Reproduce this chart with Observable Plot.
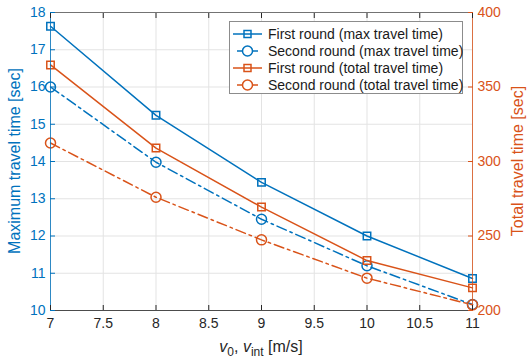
<!DOCTYPE html>
<html><head><meta charset="utf-8">
<script src="https://cdn.jsdelivr.net/npm/d3@7"></script>
<script src="https://cdn.jsdelivr.net/npm/@observablehq/plot@0.6"></script>
<style>
body{margin:0;background:#fff;font-family:"Liberation Sans",Arial,sans-serif;}
#wrap{position:relative;width:527px;height:361px;overflow:hidden;}
#legend{position:absolute;left:229px;top:21px;width:234px;height:73px;border:1px solid #8c8c8c;background:#fff;box-sizing:border-box;font-size:14px;color:#1a1a1a;}
.row{position:absolute;left:3px;height:17px;display:flex;align-items:center;white-space:nowrap;}
.row svg{margin-right:3px;}
.ylab{position:absolute;font-size:16px;white-space:nowrap;transform:translate(-50%,-50%) rotate(-90deg);line-height:16px;}
#xlab{position:absolute;font-size:16px;white-space:nowrap;transform:translateX(-50%);color:#262626;line-height:16px;}
#xlab sub{font-size:12px;vertical-align:-4px;line-height:0;}
</style></head>
<body><div id="wrap"></div>
<script>
const speeds = [7, 8, 9, 10, 11];
const maxFirst = [17.63, 15.24, 13.44, 12.0, 10.86];
const maxSecond = [16.0, 13.98, 12.45, 11.2, 10.16];
const totalFirst = [364.8, 309, 269.4, 233.5, 215.2];
const totalSecond = [312.4, 276, 247.4, 221.7, 203.8];
const xTicks = [7, 7.5, 8, 8.5, 9, 9.5, 10, 10.5, 11];
const leftTicks = [10, 11, 12, 13, 14, 15, 16, 17, 18];
const rightTicks = [200, 250, 300, 350, 400];
const seriesNames = ["First round (max travel time)", "Second round (max travel time)", "First round (total travel time)", "Second round (total travel time)"];
const leftLabel = "Maximum travel time [sec]";
const rightLabel = "Total travel time [sec]";

const blue = "#0072BD", orange = "#D95319", dark = "#262626";
const l0 = leftTicks[0], l1 = leftTicks[leftTicks.length - 1];
const r0 = rightTicks[0], r1 = rightTicks[rightTicks.length - 1];
const toLeft = v => l0 + (v - r0) * (l1 - l0) / (r1 - r0);
const fromLeft = v => r0 + (v - l0) * (r1 - r0) / (l1 - l0);
const dashDot = "10,4,2.5,4";

const series = [
  {name: seriesNames[0], vals: maxFirst, conv: v => v, color: blue, dash: null, symbol: "square"},
  {name: seriesNames[1], vals: maxSecond, conv: v => v, color: blue, dash: dashDot, symbol: "circle"},
  {name: seriesNames[2], vals: totalFirst, conv: toLeft, color: orange, dash: null, symbol: "square"},
  {name: seriesNames[3], vals: totalSecond, conv: toLeft, color: orange, dash: dashDot, symbol: "circle"}
];

const marks = [
  Plot.gridX({ticks: xTicks, stroke: "#e3e3e3", strokeOpacity: 1}),
  Plot.gridY({ticks: leftTicks, stroke: "#e3e3e3", strokeOpacity: 1}),
];
for (const s of series) {
  const rows = speeds.map((x, i) => ({x, y: s.conv(s.vals[i])}));
  marks.push(Plot.line(rows, {x: "x", y: "y", stroke: s.color, strokeWidth: 1.5, strokeDasharray: s.dash}));
  marks.push(Plot.dot(rows, {x: "x", y: "y", stroke: s.color, fill: "none", strokeWidth: 1.5, symbol: s.symbol, r: s.symbol === "square" ? 4.2 : 5}));
}
marks.push(
  Plot.ruleY([l1], {stroke: dark, strokeWidth: 0.6}),
  Plot.ruleY([l0], {stroke: dark, strokeWidth: 0.8}),
  Plot.ruleX([xTicks[0]], {stroke: blue, strokeWidth: 0.8}),
  Plot.ruleX([xTicks[xTicks.length - 1]], {stroke: orange, strokeWidth: 0.8}),
  Plot.axisX({ticks: xTicks, anchor: "bottom", tickSize: -5, tickPadding: 13, color: dark, label: null, tickFormat: d => String(d)}),
  Plot.axisX({ticks: xTicks, anchor: "top", tickSize: -5, tickFormat: () => "", color: dark, label: null}),
  Plot.axisY({ticks: leftTicks, anchor: "left", tickSize: -5, tickPadding: 10, color: blue, label: null, tickFormat: d => String(d)}),
  Plot.axisY({ticks: rightTicks.map(toLeft), anchor: "right", tickSize: -5, tickPadding: 10, color: orange, label: null, tickFormat: d => String(Math.round(fromLeft(d)))})
);

const chart = Plot.plot({
  width: 527, height: 361,
  marginLeft: 50, marginRight: 55, marginTop: 12, marginBottom: 51,
  x: {domain: [xTicks[0], xTicks[xTicks.length - 1]]},
  y: {domain: [l0, l1]},
  style: {fontSize: "14px", fontFamily: "'Liberation Sans', Arial, sans-serif", background: "#fff", overflow: "visible"},
  marks
});
const wrap = document.getElementById("wrap");
wrap.appendChild(chart);

// axis labels
const yl = document.createElement("div");
yl.className = "ylab"; yl.style.left = "15px"; yl.style.top = "161px"; yl.style.color = blue; yl.textContent = leftLabel;
wrap.appendChild(yl);
const yr = document.createElement("div");
yr.className = "ylab"; yr.style.left = "518px"; yr.style.top = "161px"; yr.style.color = orange; yr.textContent = rightLabel;
wrap.appendChild(yr);
const xl = document.createElement("div");
xl.id = "xlab"; xl.style.left = "261px"; xl.style.top = "339px";
xl.innerHTML = "<i>v</i><sub>0</sub>, <i>v</i><sub>int</sub> [m/s]";
wrap.appendChild(xl);

// legend
const lg = document.createElement("div");
lg.id = "legend";
series.forEach((s, i) => {
  const row = document.createElement("div");
  row.className = "row";
  row.style.top = (3 + i * 17) + "px";
  const sym = s.symbol === "square"
    ? `<rect x="11" y="4.5" width="7" height="7" fill="none" stroke="${s.color}" stroke-width="1.5"/>`
    : `<circle cx="14.5" cy="8" r="5" fill="none" stroke="${s.color}" stroke-width="1.5"/>`;
  const line = s.dash
    ? `<line x1="4" x2="10" y1="8" y2="8" stroke="${s.color}" stroke-width="1.5"/><line x1="19" x2="25" y1="8" y2="8" stroke="${s.color}" stroke-width="1.5"/>`
    : `<line x1="0" x2="29" y1="8" y2="8" stroke="${s.color}" stroke-width="1.5"/>`;
  row.innerHTML = `<svg width="32" height="16">${line}${sym}</svg><span>${s.name}</span>`;
  lg.appendChild(row);
});
wrap.appendChild(lg);
</script>
</body></html>
